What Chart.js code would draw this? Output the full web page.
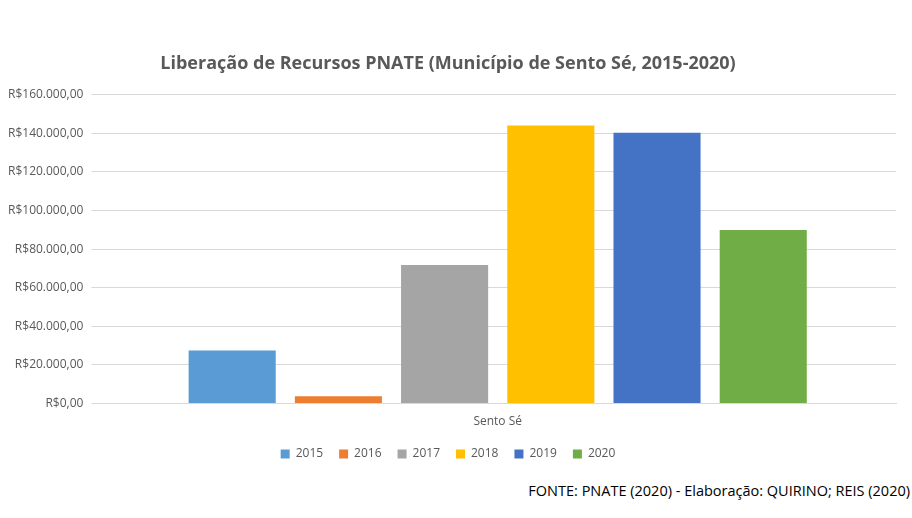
<!DOCTYPE html>
<html>
<head>
<meta charset="utf-8">
<script src="https://cdn.jsdelivr.net/npm/chart.js@4"></script>
<style>
  body { margin: 0; background: #fff; font-family: "Open Sans", sans-serif; }
  #wrap { position: relative; width: 912px; height: 518px; }
  #src { position: absolute; right: 2px; bottom: 18px; font-size: 14.5px; color: #000; }
</style>
</head>
<body>
<div id="wrap">
  <canvas id="c" width="912" height="470"></canvas>
  <div id="src">FONTE: PNATE (2020) - Elaboração: QUIRINO; REIS (2020)</div>
</div>
<script>
// Data
const categories = ['Sento Sé'];
const years = ['2015', '2016', '2017', '2018', '2019', '2020'];
const values = [27500, 3800, 71800, 144000, 140200, 89900];
const colors = ['#5b9bd5', '#ed7d31', '#a5a5a5', '#ffc000', '#4472c4', '#70ad47'];

const brl = v => 'R$' + v.toLocaleString('pt-BR', { minimumFractionDigits: 2 });

new Chart(document.getElementById('c'), {
    type: 'bar',
    data: {
        labels: categories,
        datasets: years.map((y, i) => ({
            label: y,
            data: [values[i]],
            backgroundColor: colors[i]
        }))
    },
    options: {
        responsive: false,
        animation: false,
        layout: { padding: { left: 0, right: 16, top: 53, bottom: 0 } },
        categoryPercentage: 0.8,
        barPercentage: 0.82,
        scales: {
            y: {
                min: 0, max: 160000,
                ticks: { stepSize: 20000, callback: brl, color: '#595959', font: { size: 12, family: 'Open Sans' }, padding: 8 },
                grid: { color: '#d9d9d9' },
                border: { display: false }
            },
            x: {
                ticks: { color: '#595959', font: { size: 12, family: 'Open Sans' } },
                grid: { display: false },
                border: { color: '#d9d9d9' }
            }
        },
        plugins: {
            title: {
                display: true,
                text: 'Liberação de Recursos PNATE (Município de Sento Sé, 2015-2020)',
                color: '#595959',
                font: { size: 18, weight: 'bold', family: 'Open Sans' },
                padding: { bottom: 20 }
            },
            legend: {
                position: 'bottom',
                labels: { boxWidth: 9, boxHeight: 9, color: '#595959', font: { size: 12, family: 'Open Sans' }, padding: 16 }
            },
            tooltip: { enabled: false }
        }
    }
});
</script>
</body>
</html>
